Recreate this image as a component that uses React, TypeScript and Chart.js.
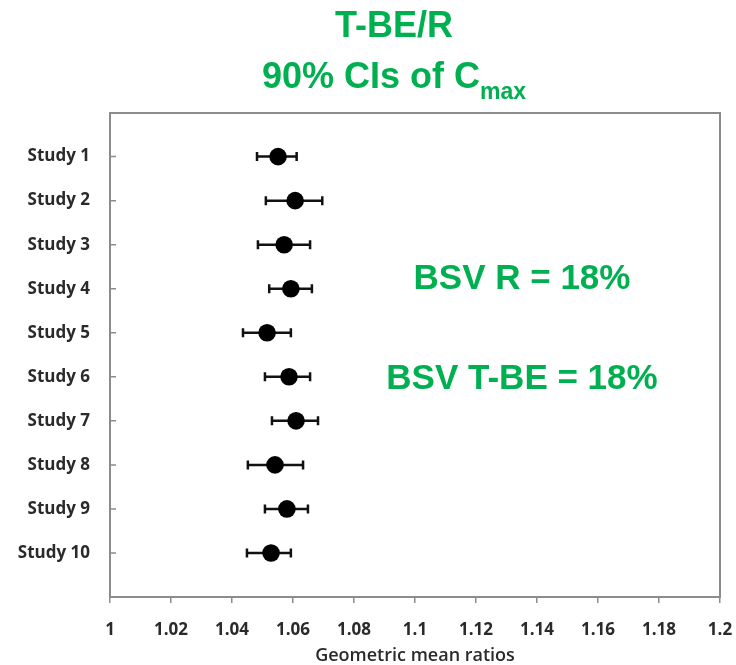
import React, { useEffect, useRef } from 'react';
import { Chart, registerables } from 'chart.js';

Chart.register(...registerables);

// Forest plot: geometric mean ratio with 90% confidence interval per study
const studyLabels = ['Study 1', 'Study 2', 'Study 3', 'Study 4', 'Study 5', 'Study 6', 'Study 7', 'Study 8', 'Study 9', 'Study 10'];
const gmr = [1.0551, 1.0607, 1.0571, 1.0593, 1.0515, 1.0587, 1.061, 1.0541, 1.058, 1.0528];
const ciLower = [1.0482, 1.0511, 1.0485, 1.0522, 1.0436, 1.0508, 1.0531, 1.0452, 1.0508, 1.0449];
const ciUpper = [1.0612, 1.0696, 1.0656, 1.0662, 1.0593, 1.0656, 1.0682, 1.0633, 1.0649, 1.0593];
const xTickValues = [1, 1.02, 1.04, 1.06, 1.08, 1.1, 1.12, 1.14, 1.16, 1.18, 1.2];

const GREEN = '#00B050';
const AXIS_GRAY = '#8c8c8c';
const LABEL_FONT = "'Open Sans', 'Liberation Sans', sans-serif";
const HEAD_FONT = "'Liberation Sans', Arial, sans-serif";

const errorBars = {
  id: 'errorBars',
  beforeDatasetsDraw(chart: any) {
    const { ctx, scales } = chart;
    const x = scales.x;
    const y = scales.y;
    ctx.save();
    ctx.strokeStyle = '#111';
    ctx.lineWidth = 2.5;
    gmr.forEach((_, i) => {
      const py = y.getPixelForValue(i + 1);
      const x0 = x.getPixelForValue(ciLower[i]);
      const x1 = x.getPixelForValue(ciUpper[i]);
      ctx.beginPath();
      ctx.moveTo(x0, py);
      ctx.lineTo(x1, py);
      ctx.moveTo(x0, py - 4.5);
      ctx.lineTo(x0, py + 4.5);
      ctx.moveTo(x1, py - 4.5);
      ctx.lineTo(x1, py + 4.5);
      ctx.stroke();
    });
    ctx.restore();
  },
};

const frame = {
  id: 'frame',
  afterDraw(chart: any) {
    const { ctx, chartArea, scales } = chart;
    const { left, right, top, bottom } = chartArea;
    ctx.save();
    ctx.strokeStyle = AXIS_GRAY;
    ctx.lineWidth = 2;
    ctx.strokeRect(left, top, right - left, bottom - top);
    ctx.lineWidth = 1.5;
    ctx.beginPath();
    studyLabels.forEach((_, i) => {
      const py = scales.y.getPixelForValue(i + 1);
      ctx.moveTo(left, py);
      ctx.lineTo(left + 6, py);
    });
    ctx.stroke();
    ctx.restore();
  },
};

const green = (size: number): React.CSSProperties => ({
  position: 'absolute',
  transform: 'translateX(-50%)',
  whiteSpace: 'nowrap',
  fontFamily: HEAD_FONT,
  fontWeight: 'bold',
  fontSize: size,
  lineHeight: `${size}px`,
  color: GREEN,
});

export default function App() {
  const canvasRef = useRef<HTMLCanvasElement | null>(null);

  useEffect(() => {
    if (!canvasRef.current) return;
    const chart = new Chart(canvasRef.current, {
      type: 'scatter',
      data: {
        datasets: [
          {
            data: gmr.map((g, i) => ({ x: g, y: i + 1 })),
            pointRadius: 8.8,
            pointHoverRadius: 8.8,
            backgroundColor: '#000',
            borderColor: '#000',
            borderWidth: 0,
          },
        ],
      },
      options: {
        responsive: false,
        animation: false,
        layout: { padding: { top: 113, right: 16, left: 0, bottom: 0 } },
        plugins: { legend: { display: false }, tooltip: { enabled: false } },
        scales: {
          x: {
            type: 'linear',
            min: 1,
            max: 1.2,
            afterBuildTicks: (s: any) => {
              s.ticks = xTickValues.map((v) => ({ value: v }));
            },
            afterFit: (s: any) => {
              s.height = 68;
              s.paddingLeft = 0;
              s.paddingRight = 0;
            },
            border: { display: false },
            grid: { drawOnChartArea: false, drawTicks: true, tickLength: 6, color: AXIS_GRAY, lineWidth: 1.5 },
            ticks: {
              autoSkip: false,
              maxRotation: 0,
              padding: 17,
              color: '#2a2a2a',
              font: { family: LABEL_FONT, size: 17, weight: 'bold' },
              callback: (v: any) => String(parseFloat(Number(v).toFixed(2))),
            },
            title: {
              display: true,
              text: 'Geometric mean ratios',
              color: '#2a2a2a',
              font: { family: LABEL_FONT, size: 18, weight: '600' },
              padding: { top: 0, bottom: -2 },
            },
          },
          y: {
            type: 'linear',
            reverse: true,
            min: 0.01,
            max: 11,
            afterBuildTicks: (s: any) => {
              s.ticks = studyLabels.map((_, i) => ({ value: i + 1 }));
            },
            afterFit: (s: any) => {
              s.width = 110;
              s.paddingTop = 0;
              s.paddingBottom = 0;
            },
            border: { display: false },
            grid: { display: false, drawTicks: false },
            ticks: {
              autoSkip: false,
              padding: 20,
              color: '#2a2a2a',
              font: { family: LABEL_FONT, size: 17, weight: 'bold' },
              callback: (v: any) => studyLabels[Math.round(Number(v)) - 1],
            },
          },
        },
      },
      plugins: [errorBars, frame],
    });
    return () => chart.destroy();
  }, []);

  return (
    <div style={{ position: 'fixed', left: 0, top: 0, width: 736, height: 665, background: '#fff' }}>
      <canvas ref={canvasRef} width={736} height={665} style={{ width: 736, height: 665, display: 'block' }} />
      <div style={{ ...green(36), left: 394, top: 6.5 }}>T-BE/R</div>
      <div style={{ ...green(36), left: 394, top: 57.5 }}>
        90% CIs of C
        <span style={{ fontSize: 23, position: 'relative', top: 11 }}>max</span>
      </div>
      <div style={{ ...green(35), left: 522, top: 258.5 }}>BSV R = 18%</div>
      <div style={{ ...green(35), left: 522, top: 358.5 }}>BSV T-BE = 18%</div>
    </div>
  );
}
